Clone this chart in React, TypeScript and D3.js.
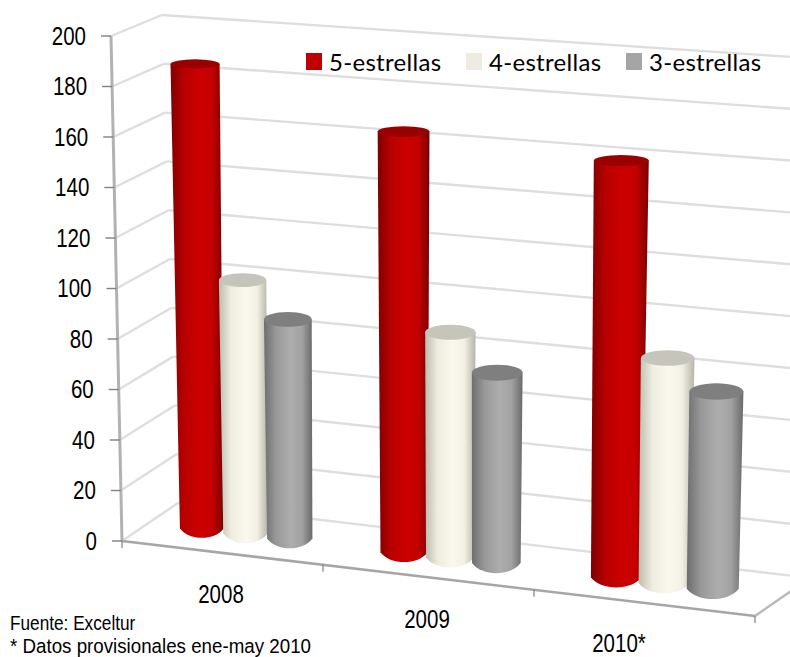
import React from "react";
import * as d3 from "d3";

// Hotel categories and yearly values
const years = ["2008", "2009", "2010*"];
const seriesNames = ["5-estrellas", "4-estrellas", "3-estrellas"];
const fiveStar = [186, 165, 160];
const fourStar = [101, 88, 86];
const threeStar = [87, 74, 75];
const seriesValues = [fiveStar, fourStar, threeStar];
const valueTicks = [0, 20, 40, 60, 80, 100, 120, 140, 160, 180, 200];

const seriesStyle = [
  { id: "red", swatch: "#c00000", top: "#990000", stops: ["#7e0000", "#b80000", "#cc0000", "#c40000", "#7a0000"] },
  { id: "cream", swatch: "#eeece1", top: "#c6c5bb", stops: ["#bdbcae", "#eeede0", "#fbf9ee", "#f2f0e4", "#b5b4a6"] },
  { id: "gray", swatch: "#a5a5a5", top: "#7f7f7f", stops: ["#6e6e6e", "#989898", "#adadad", "#a2a2a2", "#6a6a6a"] },
];
const stopOffsets = [0, 0.25, 0.55, 0.78, 1];

// Corners of the 3D box, as [x, y]
const frontLeft = { floor: [122, 541], ceil: [111, 36] };
const backLeft = { floor: [178, 503], ceil: [162, 15] };
const frontRight = { floor: [755, 616], ceil: [767, 76] };
const backRight = { floor: [810, 578], ceil: [822, 59] };

type Pt = number[];
const mix = (a: Pt, b: Pt, t: number): Pt => d3.interpolateArray(a, b)(t) as number[];
const valueFrac = d3.scaleLinear().domain([0, 200]).range([0, 1]);

// Foreshortening along the floor: the far left end is compressed
const foreshorten = (u: number) => u + 0.071 * u * (u - 1);

// u runs along the categories, v runs from front to back
function project(u: number, v: number, value: number): Pt {
  const t = valueFrac(value);
  const w = foreshorten(u);
  const left = mix(mix(frontLeft.floor, frontLeft.ceil, t), mix(backLeft.floor, backLeft.ceil, t), v);
  const right = mix(mix(frontRight.floor, frontRight.ceil, t), mix(backRight.floor, backRight.ceil, t), v);
  return mix(left, right, w);
}

const yearBand = d3.scaleBand().domain(years).range([-0.005, 0.989]);
const seriesBand = d3.scaleBand().domain(seriesNames).range([-0.1095, 0.1095]);
const floorTickU = [0, 1 / 3, 2 / 3, 1];
const yearLabelPos = [[221, 603], [427, 628], [619, 651.5]];
const legendX = [306, 466, 626];

const ryAt = d3.scaleLinear().domain([60, 590]).range([4.5, 10.4]);
const halfWidth = (u: number, value: number) => 21.5 + 5 * u + value * 0.014;

const GRID = "#dedede";
const SANS = "'Liberation Sans', Arial, sans-serif";
const NARROW = 0.82;

function cylinderPath(b: Pt, t: Pt, hwB: number, hwT: number, ryB: number) {
  const p = d3.path();
  p.moveTo(t[0] - hwT, t[1]);
  p.lineTo(b[0] - hwB, b[1]);
  p.bezierCurveTo(b[0] - hwB * 0.6, b[1] + ryB * 1.33, b[0] + hwB * 0.6, b[1] + ryB * 1.33, b[0] + hwB, b[1]);
  p.lineTo(t[0] + hwT, t[1]);
  p.closePath();
  return p.toString();
}

// Condensed sans label, squeezed horizontally from its anchor point
function CondensedText(props: { x: number; y: number; size: number; anchor?: string; squeeze?: number; children: React.ReactNode }) {
  const { x, y, size, anchor = "start", squeeze = NARROW, children } = props;
  return (
    <text
      transform={`translate(${x},${y}) scale(${squeeze},1)`}
      textAnchor={anchor}
      fontFamily={SANS}
      fontSize={size}
      fill="#000"
    >
      {children}
    </text>
  );
}

export default function App() {
  const line = (a: Pt, b: Pt, stroke: string, w: number, key?: string) => (
    <line key={key} x1={a[0]} y1={a[1]} x2={b[0]} y2={b[1]} stroke={stroke} strokeWidth={w} />
  );

  return (
    <svg width={790} height={657} style={{ position: "absolute", left: 0, top: 0, background: "#fff" }}>
      <defs>
        {seriesStyle.map((s) => (
          <linearGradient key={s.id} id={`side-${s.id}`} x1="0" x2="1" y1="0" y2="0">
            {s.stops.map((c, i) => (
              <stop key={i} offset={stopOffsets[i]} stopColor={c} />
            ))}
          </linearGradient>
        ))}
      </defs>

      {/* gridlines on the side wall and the back wall */}
      {valueTicks.map((v) => (
        <g key={v}>
          {line(project(0, 0, v), project(0, 1, v), GRID, 2.4)}
          {line(project(0, 1, v), project(1, 1, v), GRID, 2.4)}
        </g>
      ))}

      {/* floor outline */}
      {line(project(1, 0, 0), project(1, 1, 0), "#b8b8b8", 2.4)}
      {line(project(0, 0, 0), project(1, 0, 0), "#a6a6a6", 2.6)}
      {floorTickU.map((u) => {
        const p = project(u, 0, 0);
        return line(p, [p[0], p[1] + 7], "#808080", 1.2, `f${u}`);
      })}

      {/* value axis */}
      {line(project(0, 0, 0), project(0, 0, 200), "#b2b2b2", 3)}
      {valueTicks.map((v) => {
        const p = project(0, 0, v);
        return (
          <g key={v}>
            {line([p[0] - 10, p[1]], p, "#808080", 1.4)}
            <CondensedText x={p[0] - 25} y={p[1] + 8.5} size={25} anchor="end">
              {v}
            </CondensedText>
          </g>
        );
      })}

      {/* cylinders */}
      {years.map((year, yi) =>
        seriesNames.map((name, si) => {
          const value = seriesValues[si][yi];
          const u = yearBand(year)! + yearBand.bandwidth() / 2 + seriesBand(name)! + seriesBand.bandwidth() / 2;
          const b = project(u, 0.5, 0);
          const raw = project(u, 0.5, value);
          // the tops lean less than the wall edges towards the left end
          const t = [raw[0] + (1 - u) * 4.5 * valueFrac(value), raw[1]];
          const hwB = halfWidth(u, 0);
          const hwT = halfWidth(u, value);
          const style = seriesStyle[si];
          return (
            <g key={`${year}-${name}`}>
              <path d={cylinderPath(b, t, hwB, hwT, ryAt(b[1]))} fill={`url(#side-${style.id})`} />
              <ellipse cx={t[0]} cy={t[1]} rx={hwT} ry={ryAt(t[1])} fill={style.top} />
            </g>
          );
        })
      )}

      {/* category labels */}
      {years.map((year, i) => (
        <CondensedText key={year} x={yearLabelPos[i][0]} y={yearLabelPos[i][1]} size={25} anchor="middle">
          {year}
        </CondensedText>
      ))}

      {/* legend */}
      {seriesNames.map((name, i) => (
        <g key={name}>
          <rect x={legendX[i]} y={53} width={16} height={17} fill={seriesStyle[i].swatch} />
          <text x={legendX[i] + 23} y={71} fontFamily="Lato, sans-serif" fontSize={24} letterSpacing={0.3} fill="#000">
            {name}
          </text>
        </g>
      ))}

      {/* source notes */}
      <CondensedText x={10} y={630} size={21}>Fuente: Exceltur</CondensedText>
      <CondensedText x={10} y={652.5} size={20.5} squeeze={0.915}>* Datos provisionales ene-may 2010</CondensedText>
    </svg>
  );
}
